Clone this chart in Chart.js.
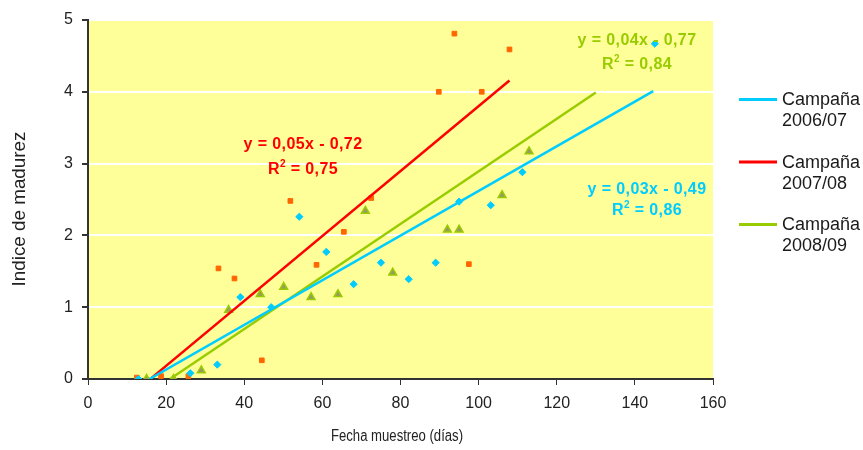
<!DOCTYPE html>
<html lang="es">
<head>
  <meta charset="UTF-8" />
  <title>Indice de madurez</title>
  <script src="https://cdn.jsdelivr.net/npm/chart.js"></script>
  <style>
    body { margin: 0; background: #ffffff; }
    .wrap { position: relative; width: 863px; height: 450px; }
  </style>
</head>
<body>
  <div class="wrap"><canvas id="chart"></canvas></div>

  <script>
    // Campaña 2006/07 (cyan diamonds)
    const x0607 = [12.9, 26.2, 33.1, 39, 46.9, 54.1, 61, 68, 75, 82.1, 89, 95, 103.1, 111.2, 145.1];
    const y0607 = [0, 0.08, 0.2, 1.14, 1.0, 2.26, 1.77, 1.32, 1.62, 1.39, 1.62, 2.47, 2.42, 2.88, 4.67];
    // Campaña 2007/08 (orange squares)
    const x0708 = [12.5, 18.7, 25.7, 33.4, 37.5, 44.5, 51.8, 58.5, 65.5, 72.5, 89.8, 93.8, 97.5, 100.8, 107.9];
    const y0708 = [0.02, 0.04, 0.04, 1.54, 1.40, 0.26, 2.48, 1.59, 2.05, 2.52, 4.0, 4.81, 1.60, 4.0, 4.59];
    // Campaña 2008/09 (triangles)
    const x0809 = [15, 21.9, 29, 36, 44.1, 50.1, 57.1, 64, 71, 78, 92, 95, 106, 112.9];
    const y0809 = [0, 0, 0.12, 0.96, 1.18, 1.28, 1.14, 1.18, 2.34, 1.48, 2.08, 2.08, 2.56, 3.17];

    // trendlines: slope, intercept, x range
    const trendSlope = [0.0311, 0.0452, 0.0366];
    const trendIntercept = [-0.49, -0.72, -0.768];
    const trendRange = [[15.75, 144.7], [15.9, 107.9], [21, 130]];

    const seriesNames = [['Campaña', '2006/07'], ['Campaña', '2007/08'], ['Campaña', '2008/09']];
    const lineColors = ['#00ccff', '#ff0000', '#99cc00'];
    const equations = ['y = 0,03x - 0,49', 'y = 0,05x - 0,72', 'y = 0,04x - 0,77'];
    const r2Values = ['0,86', '0,75', '0,84'];
    const xTitle = 'Fecha muestreo (días)';
    const yTitle = 'Indice de madurez';

    const FONT = '"Liberation Sans", Arial, sans-serif';

    const pts = (xs, ys) => xs.map((x, i) => ({ x: x, y: ys[i] }));
    const trend = i => trendRange[i].map(x => ({ x: x, y: trendSlope[i] * x + trendIntercept[i] }));

    const plotBg = {
      id: 'plotBg',
      beforeDraw(chart) {
        const a = chart.chartArea, c = chart.ctx;
        c.save();
        c.fillStyle = '#ffff99';
        c.fillRect(a.left, a.top, a.right - a.left, a.bottom - a.top);
        c.restore();
      }
    };

    // draw text squeezed/stretched to a given width
    function fitText(c, txt, cx, cy, w) {
      const m = c.measureText(txt).width;
      c.save();
      c.translate(cx, cy);
      c.scale(w / m, 1);
      c.textAlign = 'center';
      c.fillText(txt, 0, 0);
      c.restore();
    }

    // axis titles, equations and legend
    const extras = {
      id: 'extras',
      afterDraw(chart) {
        const c = chart.ctx;
        c.save();
        c.textBaseline = 'middle';

        // axis titles
        c.fillStyle = '#222';
        c.font = '16px ' + FONT;
        fitText(c, xTitle, 397, 437, 132);
        c.save();
        c.translate(20, 209);
        c.rotate(-Math.PI / 2);
        c.font = '18px ' + FONT;
        fitText(c, yTitle, 0, 0, 155);
        c.restore();

        // trendline equations
        const labelPos = [[647, 190, 211], [303, 145, 170], [637, 41, 65]];
        c.letterSpacing = '0.4px';
        labelPos.forEach((p, i) => {
          c.fillStyle = lineColors[i];
          c.font = 'bold 16px ' + FONT;
          c.textAlign = 'center';
          c.fillText(equations[i], p[0], p[1]);
          // R² line
          c.textAlign = 'left';
          const wR = c.measureText('R').width;
          const rest = ' = ' + r2Values[i];
          const wRest = c.measureText(rest).width;
          c.font = 'bold 10px ' + FONT;
          const w2 = c.measureText('2').width;
          const total = wR + w2 + wRest;
          let x = p[0] - total / 2;
          c.font = 'bold 16px ' + FONT;
          c.fillText('R', x, p[2]);
          x += wR;
          c.font = 'bold 10px ' + FONT;
          c.fillText('2', x, p[2] - 6);
          x += w2;
          c.font = 'bold 16px ' + FONT;
          c.fillText(rest, x, p[2]);
        });
        c.letterSpacing = '0px';

        // legend
        c.font = '18px ' + FONT;
        c.textAlign = 'left';
        const legendY = [99.5, 162, 224.5];
        legendY.forEach((y, i) => {
          c.strokeStyle = lineColors[i];
          c.lineWidth = 3;
          c.beginPath();
          c.moveTo(739, y);
          c.lineTo(777, y);
          c.stroke();
          c.fillStyle = '#1a1a1a';
          c.fillText(seriesNames[i][0], 782, y + 1);
          c.fillText(seriesNames[i][1], 782, y + 22);
        });
        c.restore();
      }
    };

    new Chart(document.getElementById('chart'), {
      type: 'scatter',
      data: {
        datasets: [
          { label: 'Tendencia 2006/07', type: 'line', data: trend(0), borderColor: lineColors[0], borderWidth: 2.5, pointRadius: 0, fill: false, order: 0 },
          { label: 'Tendencia 2007/08', type: 'line', data: trend(1), borderColor: lineColors[1], borderWidth: 2.5, pointRadius: 0, fill: false, order: 0 },
          { label: 'Tendencia 2008/09', type: 'line', data: trend(2), borderColor: lineColors[2], borderWidth: 2.5, pointRadius: 0, fill: false, order: 0 },
          { label: '2006/07', data: pts(x0607, y0607), pointStyle: 'rectRot', pointRadius: 3.6, backgroundColor: '#00ccff', borderColor: '#00ccff', borderWidth: 1, order: 1 },
          { label: '2007/08', data: pts(x0708, y0708), pointStyle: 'rect', pointRadius: 3.3, backgroundColor: '#ff6600', borderColor: '#ff6600', borderWidth: 1, order: 1 },
          { label: '2008/09', data: pts(x0809, y0809), pointStyle: 'triangle', pointRadius: 4.5, backgroundColor: '#999966', borderColor: '#99cc00', borderWidth: 1.5, order: 1 }
        ]
      },
      options: {
        responsive: true,
        maintainAspectRatio: false,
        animation: false,
        layout: { padding: { top: 20, right: 150, bottom: 0, left: 0 } },
        plugins: {
          legend: { display: false },
          tooltip: { enabled: false }
        },
        scales: {
          x: {
            type: 'linear',
            min: 0, max: 160,
            ticks: { stepSize: 20, color: '#222', font: { size: 16, family: FONT }, padding: 9 },
            grid: { drawOnChartArea: false, color: '#333', tickLength: 6 },
            border: { color: '#333', width: 2 },
            title: { display: false },
            afterFit(s) { s.height = 71; }
          },
          y: {
            min: 0, max: 5,
            ticks: { stepSize: 1, color: '#222', font: { size: 16, family: FONT }, padding: 9 },
            grid: { color: '#ffffff', lineWidth: 2, tickColor: '#333', tickLength: 6 },
            border: { color: '#333', width: 2 },
            title: { display: false },
            afterFit(s) { s.width = 88; }
          }
        }
      },
      plugins: [plotBg, extras]
    });
  </script>
</body>
</html>
